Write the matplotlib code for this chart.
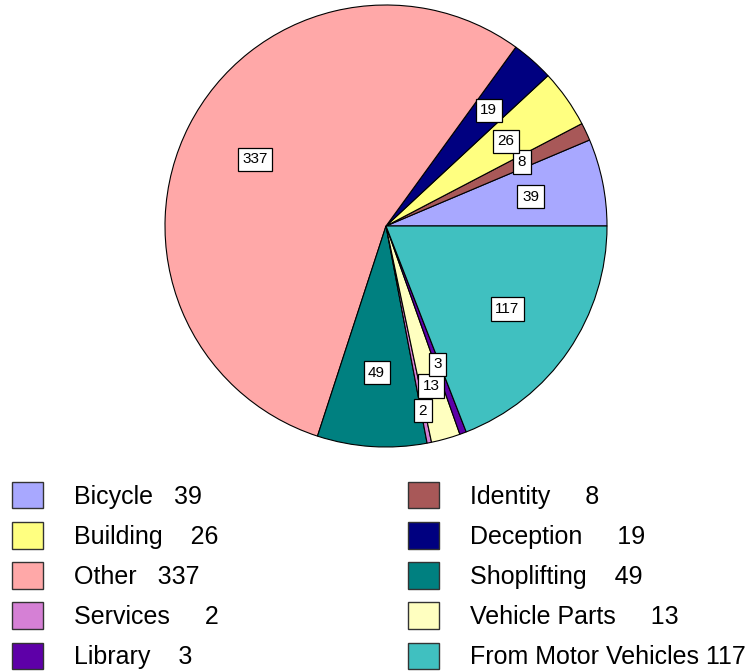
import matplotlib.pyplot as plt
from matplotlib.patches import Patch
import numpy as np

plt.rcParams['font.family'] = ['Liberation Sans', 'DejaVu Sans']

# categories in pie order (counterclockwise from east)
categorias = ["Bicycle", "Identity", "Building", "Deception", "Other",
              "Shoplifting", "Services", "Vehicle Parts", "Library",
              "From Motor Vehicles"]
valores = [39, 8, 26, 19, 337, 49, 2, 13, 3, 117]
cores = ["#A8A8FF", "#A85858", "#FFFF80", "#000080", "#FFA8A8",
         "#008080", "#D580D5", "#FFFFC0", "#5E00A8", "#40C0C0"]

# radial position of each value box (fraction of radius)
raio_rotulo = [0.667, 0.679, 0.665, 0.70, 0.665, 0.665, 0.853, 0.752, 0.668, 0.665]

# spacing between name and value in legend
espacos = {"Bicycle": "   ", "Identity": "     ", "Building": "    ",
           "Deception": "     ", "Other": "   ", "Shoplifting": "    ",
           "Services": "     ", "Vehicle Parts": "     ", "Library": "    ",
           "From Motor Vehicles": " "}

fig = plt.figure(figsize=(7.49, 6.72), dpi=100)
ax = fig.add_axes([165 / 749, (672 - 447) / 672, 442 / 749, 442 / 672])

wedges, _ = ax.pie(valores, colors=cores, startangle=0, counterclock=True,
                   wedgeprops=dict(edgecolor="black", linewidth=0.8))
ax.set_xlim(-1, 1)
ax.set_ylim(-1, 1)
ax.set_aspect("equal")
ax.axis("off")

for w, v, r in zip(wedges, valores, raio_rotulo):
    ang = np.deg2rad((w.theta1 + w.theta2) / 2)
    ax.text(r * np.cos(ang), r * np.sin(ang), str(v), ha="center", va="center",
            fontsize=11,
            bbox=dict(boxstyle="square,pad=0.3", fc="white", ec="black", lw=0.9))

# legend: two columns, row-major order
handles = [Patch(facecolor=c, edgecolor="#333333", linewidth=1.0) for c in cores]
rotulos = [f"{n}{espacos[n]}{v}" for n, v in zip(categorias, valores)]
col1 = [0, 2, 4, 6, 8]
col2 = [1, 3, 5, 7, 9]
fs = 18
for idx, x0 in [(col1, 12), (col2, 408)]:
    fig.legend([handles[i] for i in idx], [rotulos[i] for i in idx],
               loc="upper left", bbox_to_anchor=(x0 / 749, 1 - 482 / 672),
               frameon=False, fontsize=fs, handlelength=1.25, handleheight=1.25,
               handletextpad=1.25, labelspacing=0.54, borderpad=0, borderaxespad=0)

fig.savefig("out.png", dpi=100)
